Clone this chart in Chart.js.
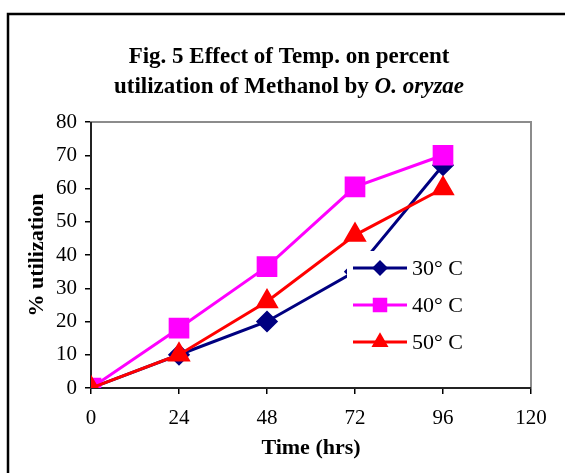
<!DOCTYPE html>
<html>
<head>
<meta charset="utf-8">
<script src="https://cdn.jsdelivr.net/npm/chart.js@4/dist/chart.umd.min.js"></script>
<style>
  html, body { margin: 0; padding: 0; background: #fff; }
  #wrap { width: 565px; height: 473px; position: relative; }
</style>
</head>
<body>
<div id="wrap"><canvas id="chart"></canvas></div>
<script>
// Fig. 5 data
const hours = [0, 24, 48, 72, 96];
const temp30 = [0, 10, 20, 35, 67];
const temp40 = [0, 18, 36.5, 60.5, 70];
const temp50 = [0, 10, 26, 46, 60];
const xTicks = [0, 24, 48, 72, 96, 120];
const yTicks = [0, 10, 20, 30, 40, 50, 60, 70, 80];

const SERIF = '"Liberation Serif", "Times New Roman", serif';

function points(ys) {
  return hours.map((h, i) => ({ x: h, y: ys[i] }));
}

// outer frame + title (mixed bold / bold italic)
const frameAndTitle = {
  id: "frameAndTitle",
  beforeDraw(chart) {
    const ctx = chart.ctx;
    ctx.save();
    ctx.fillStyle = "#fff";
    ctx.fillRect(0, 0, chart.width, chart.height);
    ctx.strokeStyle = "#000";
    ctx.lineWidth = 2.5;
    ctx.beginPath();
    ctx.moveTo(8, chart.height);
    ctx.lineTo(8, 14);
    ctx.lineTo(chart.width, 14);
    ctx.stroke();

    ctx.fillStyle = "#000";
    ctx.textBaseline = "middle";
    ctx.textAlign = "center";
    ctx.font = "bold 23px " + SERIF;
    ctx.fillText("Fig. 5 Effect of Temp. on percent", 289, 57);

    const part1 = "utilization of Methanol by ";
    const part2 = "O. oryzae";
    ctx.font = "bold 23px " + SERIF;
    const w1 = ctx.measureText(part1).width;
    ctx.font = "bold italic 23px " + SERIF;
    const w2 = ctx.measureText(part2).width;
    let x = 289 - (w1 + w2) / 2;
    ctx.textAlign = "left";
    ctx.font = "bold 23px " + SERIF;
    ctx.fillText(part1, x, 87);
    ctx.font = "bold italic 23px " + SERIF;
    ctx.fillText(part2, x + w1, 87);
    ctx.restore();
  },
  beforeDatasetsDraw(chart) {
    // gray plot-area border
    const a = chart.chartArea;
    const ctx = chart.ctx;
    ctx.save();
    ctx.strokeStyle = "#8c8c8c";
    ctx.lineWidth = 2;
    ctx.strokeRect(a.left, a.top, a.right - a.left, a.bottom - a.top);
    ctx.strokeStyle = "#000";
    ctx.lineWidth = 1.5;
    ctx.beginPath();
    ctx.moveTo(a.left, a.top);
    ctx.lineTo(a.left, a.bottom);
    ctx.lineTo(a.right, a.bottom);
    ctx.stroke();
    ctx.restore();
  }
};

// legend box inside the plot, drawn over the lines
const innerLegend = {
  id: "innerLegend",
  afterDatasetsDraw(chart) {
    const ctx = chart.ctx;
    ctx.save();
    ctx.fillStyle = "#fff";
    ctx.fillRect(347, 251, 125, 108);
    const rows = [268, 305, 342];
    chart.data.datasets.forEach((ds, i) => {
      const y = rows[i];
      ctx.strokeStyle = ds.borderColor;
      ctx.fillStyle = ds.backgroundColor;
      ctx.lineWidth = 3;
      ctx.beginPath();
      ctx.moveTo(353, y);
      ctx.lineTo(407, y);
      ctx.stroke();
      Chart.helpers.drawPoint(ctx, {
        pointStyle: ds.pointStyle,
        radius: ds.pointRadius * 0.65,
        rotation: 0,
        borderWidth: 1
      }, 380, y);
      ctx.fillStyle = "#000";
      ctx.font = "22px " + SERIF;
      ctx.textAlign = "left";
      ctx.textBaseline = "middle";
      ctx.fillText(ds.label, 412, y + 1);
    });
    ctx.restore();
  }
};

const ctx = document.getElementById("chart").getContext("2d");
new Chart(ctx, {
  type: "line",
  data: {
    datasets: [
      {
        label: "30\u00B0 C",
        data: points(temp30),
        borderColor: "#000080",
        backgroundColor: "#000080",
        borderWidth: 3,
        pointStyle: "rectRot",
        pointRadius: 9,
        order: 3
      },
      {
        label: "40\u00B0 C",
        data: points(temp40),
        borderColor: "#ff00ff",
        backgroundColor: "#ff00ff",
        borderWidth: 3,
        pointStyle: "rect",
        pointRadius: 12.5,
        order: 2
      },
      {
        label: "50\u00B0 C",
        data: points(temp50),
        borderColor: "#ff0000",
        backgroundColor: "#ff0000",
        borderWidth: 3,
        pointStyle: "triangle",
        pointRadius: 10.5,
        order: 1
      }
    ]
  },
  options: {
    responsive: true,
    maintainAspectRatio: false,
    animation: false,
    layout: { padding: { left: 14, top: 122, right: 34, bottom: 10 } },
    plugins: {
      legend: { display: false },
      title: { display: false },
      tooltip: { enabled: false }
    },
    elements: {
      line: { tension: 0 },
      point: { borderWidth: 1 }
    },
    scales: {
      x: {
        type: "linear",
        min: 0,
        max: 120,
        afterBuildTicks: s => { s.ticks = xTicks.map(v => ({ value: v })); },
        afterFit: s => { s.height = 75; },
        border: { display: false },
        grid: { drawOnChartArea: false, tickLength: 6, color: "#000", lineWidth: 1.5 },
        ticks: { color: "#000", padding: 12, font: { family: SERIF, size: 21 } },
        title: {
          display: true,
          text: "Time (hrs)",
          color: "#000",
          padding: { top: 0, bottom: 1 },
          font: { family: SERIF, size: 22, weight: "bold" }
        }
      },
      y: {
        min: 0,
        max: 80,
        afterBuildTicks: s => { s.ticks = yTicks.map(v => ({ value: v })); },
        afterFit: s => { s.width = 77; },
        border: { display: false },
        grid: { drawOnChartArea: false, tickLength: 6, color: "#000", lineWidth: 1.5 },
        ticks: { color: "#000", padding: 8, font: { family: SERIF, size: 21 } },
        title: {
          display: true,
          text: "% utilization",
          color: "#000",
          padding: { top: 10, bottom: 0 },
          font: { family: SERIF, size: 22, weight: "bold" }
        }
      }
    }
  },
  plugins: [frameAndTitle, innerLegend]
});
</script>
</body>
</html>
